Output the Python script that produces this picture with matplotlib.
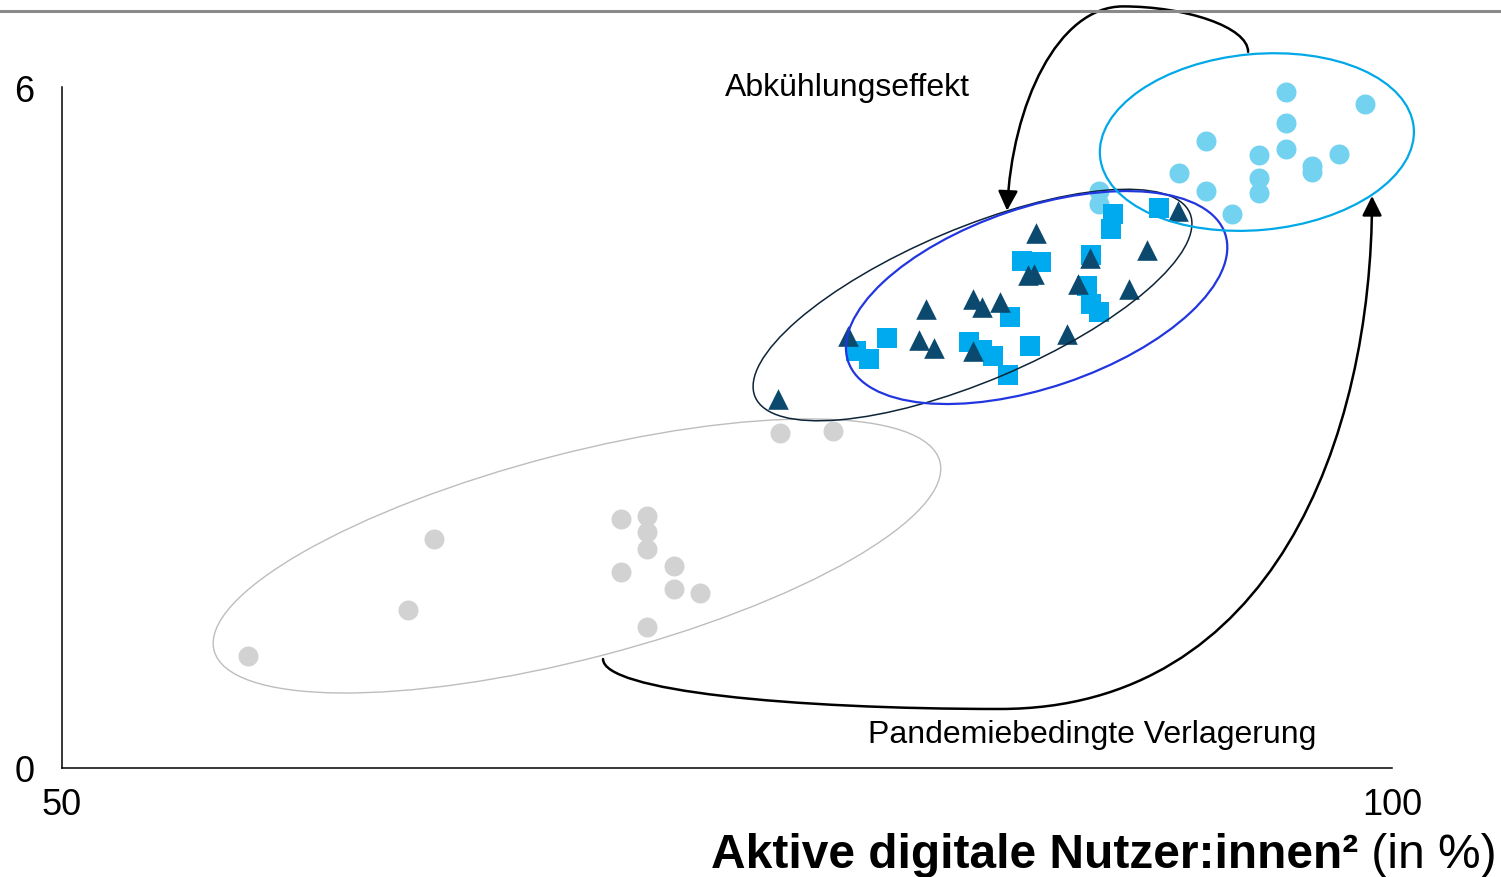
import matplotlib
matplotlib.use("Agg")
import matplotlib.pyplot as plt
from matplotlib.patches import Ellipse, FancyArrowPatch
from matplotlib.path import Path
from matplotlib.lines import Line2D
from matplotlib.transforms import ScaledTranslation

plt.rcParams['font.family'] = ['Liberation Sans', 'DejaVu Sans']

# grey circles (earlier period)
grey_x = [57, 63, 64, 71, 72, 72, 72, 71, 73, 73, 74, 72, 77, 79]
grey_y = [0.99, 1.39, 2.02, 2.19, 2.22, 2.08, 1.93, 1.73, 1.78, 1.58, 1.54, 1.24, 2.95, 2.97]

# light blue circles (pandemic peak)
peak_x = [96, 99, 96, 93, 96, 95, 98, 97, 97, 92, 95, 95, 93, 94, 89, 89]
peak_y = [5.96, 5.85, 5.68, 5.52, 5.45, 5.40, 5.41, 5.30, 5.25, 5.24, 5.20, 5.07, 5.08, 4.88, 5.08, 4.97]

# squares
sq_x = [81.0, 79.85, 80.35, 84.1, 84.6, 85.0, 85.55, 85.65, 86.4, 86.1, 86.8, 88.7, 88.55, 88.7, 89.0, 89.5, 89.45, 91.25]
sq_y = [3.79, 3.67, 3.60, 3.75, 3.68, 3.63, 3.46, 3.97, 3.72, 4.47, 4.46, 4.52, 4.25, 4.09, 4.02, 4.88, 4.75, 4.93]

# triangles
tri_x = [76.9, 79.55, 82.5, 82.2, 82.8, 84.25, 84.6, 85.25, 84.25, 86.6, 86.3, 86.55, 88.65, 88.2, 90.8, 90.1, 87.8, 91.95]
tri_y = [3.25, 3.81, 4.04, 3.77, 3.70, 4.13, 4.06, 4.11, 3.67, 4.71, 4.34, 4.35, 4.49, 4.26, 4.56, 4.22, 3.82, 4.91]

fig = plt.figure(figsize=(15.01, 8.78), dpi=100)
ax = fig.add_axes([62 / 1501, 109 / 878, 1330 / 1501, 681 / 878])

ax.scatter(grey_x, grey_y, s=207, marker='o', color='#d2d2d2', linewidths=0, zorder=2, clip_on=False)
ax.scatter(peak_x, peak_y, s=207, marker='o', color='#72d2f0', linewidths=0, zorder=3, clip_on=False)
ax.scatter(sq_x, sq_y, s=207, marker='s', color='#00aaee', linewidths=0, zorder=4, clip_on=False)
ax.scatter(tri_x, tri_y, s=220, marker='^', color='#0b4a6e', linewidths=0, zorder=5, clip_on=False)

# cluster ellipses: centre in data units, size in inches
def cluster(cx, cy, w, h, ang, color, lw):
    tr = fig.dpi_scale_trans + ScaledTranslation(cx, cy, ax.transData)
    e = Ellipse((0, 0), w, h, angle=ang, transform=tr, fill=False,
                edgecolor=color, linewidth=lw, zorder=6, clip_on=False)
    ax.add_patch(e)

cluster(69.36, 1.868, 7.50, 2.05, 14.6, '#bdbdbd', 1.0)
cluster(84.23, 4.079, 4.72, 1.53, 22.9, '#0d2438', 1.1)
cluster(86.64, 4.145, 3.98, 1.80, 18.7, '#2236e0', 1.6)
cluster(94.92, 5.515, 3.15, 1.76, 5.3, '#00a8e8', 1.6)

# curved arrows
C4 = Path.CURVE4
p1 = Path([(94.59, 6.31), (94.59, 6.53), (92.22, 6.71), (89.89, 6.71),
           (87.44, 6.71), (85.71, 5.85), (85.53, 4.91)],
          [Path.MOVETO, C4, C4, C4, C4, C4, C4])
p2 = Path([(70.34, 0.96), (70.34, 0.68), (77.37, 0.52), (85.26, 0.52),
           (95.5, 0.52), (99.25, 2.9), (99.25, 5.04)],
          [Path.MOVETO, C4, C4, C4, C4, C4, C4])
for p in (p1, p2):
    ax.add_patch(FancyArrowPatch(path=p, arrowstyle='-|>,head_length=12,head_width=6',
                                 mutation_scale=1, color='black', linewidth=1.8,
                                 zorder=7, clip_on=False))

ax.text(74.92, 6.0, 'Abkühlungseffekt', fontsize=23, va='center', ha='left')
ax.text(80.3, 0.30, 'Pandemiebedingte Verlagerung', fontsize=23, va='center', ha='left')

ax.set_xlim(50, 100)
ax.set_ylim(0, 6)
ax.set_xticks([50, 100])
ax.set_yticks([0, 6])
ax.tick_params(length=0, labelsize=26)
ax.tick_params(axis='x', pad=14)
ax.tick_params(axis='y', pad=20)
for s in ('top', 'right'):
    ax.spines[s].set_visible(False)
for s in ('left', 'bottom'):
    ax.spines[s].set_linewidth(1.1)

# x axis label: bold part + regular part
reg = fig.text(1497 / 1501, 10 / 878, ' (in %)', fontsize=34.5, ha='right', va='baseline')
fig.canvas.draw()
ax.annotate('Aktive digitale Nutzer:innen²', xy=(0, 0), xycoords=reg,
            fontsize=34.5, fontweight='bold', ha='right', va='bottom',
            annotation_clip=False)

# top rule
fig.add_artist(Line2D([0, 1], [866 / 878, 866 / 878], transform=fig.transFigure,
                      color='#8a8a8a', linewidth=2.2))

fig.savefig('out.png', dpi=100)
